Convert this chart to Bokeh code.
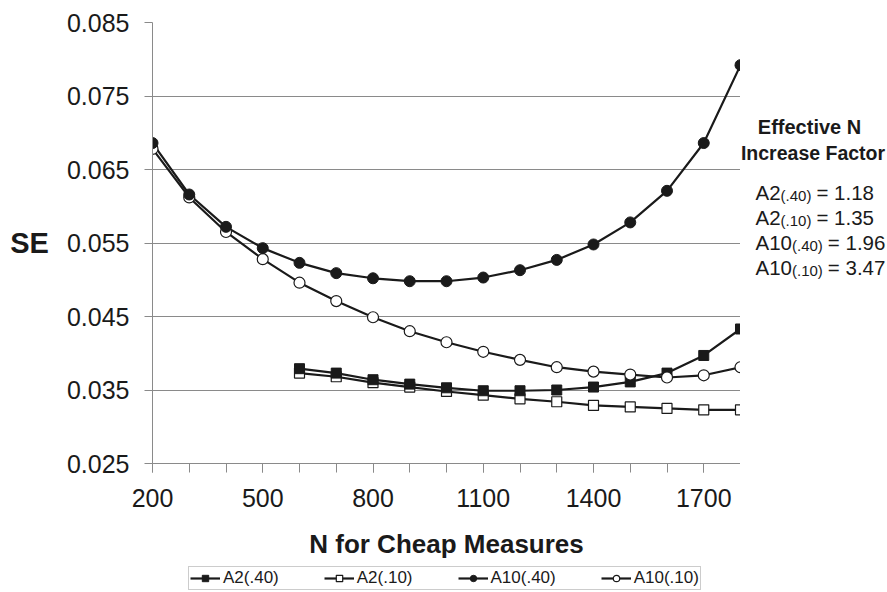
from bokeh.plotting import figure
from bokeh.layouts import row, column
from bokeh.models import FixedTicker, Legend, LegendItem, Label, Range1d
from bokeh.embed import file_html
from bokeh.resources import INLINE

# ---- data ----
n_all = [200, 300, 400, 500, 600, 700, 800, 900, 1000, 1100, 1200, 1300, 1400, 1500, 1600, 1700, 1800]
n_a2 = [600, 700, 800, 900, 1000, 1100, 1200, 1300, 1400, 1500, 1600, 1700, 1800]
a10_40 = [0.0686, 0.0616, 0.0572, 0.0543, 0.0523, 0.0509, 0.0502, 0.0498, 0.0498, 0.0503,
          0.0513, 0.0527, 0.0548, 0.0578, 0.0621, 0.0686, 0.0792]
a10_10 = [0.0678, 0.0612, 0.0565, 0.0528, 0.0496, 0.0471, 0.0449, 0.0430, 0.0415, 0.0402,
          0.0391, 0.0381, 0.0375, 0.0371, 0.0367, 0.0370, 0.0381]
a2_40 = [0.0379, 0.0373, 0.0364, 0.0358, 0.0353, 0.0349, 0.0349, 0.0350, 0.0354, 0.0361,
         0.0373, 0.0397, 0.0433]
a2_10 = [0.0373, 0.0368, 0.0360, 0.0354, 0.0348, 0.0343, 0.0338, 0.0334, 0.0329, 0.0327,
         0.0325, 0.0323, 0.0323]
series_labels = ["A2(.40)", "A2(.10)", "A10(.40)", "A10(.10)"]
y_ticks = [0.025, 0.035, 0.045, 0.055, 0.065, 0.075, 0.085]
y_tick_labels = ["0.025", "0.035", "0.045", "0.055", "0.065", "0.075", "0.085"]
x_major = [200, 500, 800, 1100, 1400, 1700]
x_minor = n_all
factor_title = ["Effective N", "Increase Factor"]
factor_names = ["A2", "A2", "A10", "A10"]
factor_subs = ["(.40)", "(.10)", "(.40)", "(.10)"]
factor_vals = ["1.18", "1.35", "1.96", "3.47"]

FONT = "Liberation Sans"
INK = "#1a1a1a"
GRID = "#8a8a8a"

MAIN_H = 566
p = figure(width=740, height=MAIN_H, output_backend="svg", toolbar_location=None,
           x_range=Range1d(200, 1800), y_range=Range1d(0.025, 0.085),
           min_border_left=152, min_border_right=0, min_border_top=22,
           min_border_bottom=MAIN_H - 463)
p.outline_line_color = None
p.background_fill_color = "white"

# axes
p.xaxis.ticker = FixedTicker(ticks=x_major, minor_ticks=x_minor)
p.yaxis.ticker = FixedTicker(ticks=y_ticks, minor_ticks=[])
p.yaxis.major_label_overrides = {t: l for t, l in zip(y_ticks, y_tick_labels)}
for ax in (p.xaxis, p.yaxis):
    ax.axis_line_color = GRID
    ax.axis_line_width = 1
    ax.major_tick_line_color = GRID
    ax.minor_tick_line_color = GRID
    ax.major_tick_in = 0
    ax.minor_tick_in = 0
    ax.major_label_text_font = FONT
    ax.major_label_text_font_size = "25px"
    ax.major_label_text_color = INK
    ax.axis_label_text_font = FONT
    ax.axis_label_text_font_style = "bold"
    ax.axis_label_text_color = INK
p.xaxis.major_tick_out = 9
p.xaxis.minor_tick_out = 9
p.xaxis.major_label_standoff = 16
p.xaxis.axis_label = "N for Cheap Measures"
p.xaxis.axis_label_text_font_size = "26px"
p.xaxis.axis_label_standoff = 19
p.yaxis.major_tick_out = 8
p.yaxis.minor_tick_out = 0
p.yaxis.major_label_standoff = 15
p.yaxis.axis_label = "SE"
p.yaxis.axis_label_orientation = "horizontal"
p.yaxis.axis_label_text_font_size = "29px"
p.yaxis.axis_label_standoff = 15

p.xgrid.grid_line_color = None
p.ygrid.ticker = FixedTicker(ticks=y_ticks)
p.ygrid.grid_line_color = GRID
p.ygrid.grid_line_width = 1

LW = 2.2
line_kw = dict(line_color=INK, line_width=LW)
mk = [dict(marker="square", size=10, fill_color=INK, line_color=INK, line_width=1),
      dict(marker="square", size=10, fill_color="white", line_color=INK, line_width=1.2),
      dict(marker="circle", size=11, fill_color=INK, line_color=INK, line_width=1),
      dict(marker="circle", size=11, fill_color="white", line_color=INK, line_width=1.2)]
series_x = [n_a2, n_a2, n_all, n_all]
series_y = [a2_40, a2_10, a10_40, a10_10]

lines = [p.line(x, y, **line_kw) for x, y in zip(series_x, series_y)]
for i in (1, 0, 3, 2):
    p.scatter(series_x[i], series_y[i], **mk[i])

# ---- right-hand annotation panel (same vertical frame as main plot) ----
side = figure(width=147, height=MAIN_H, output_backend="svg", toolbar_location=None,
              x_range=Range1d(0, 1), y_range=Range1d(0, 1),
              x_axis_location=None, y_axis_location=None,
              min_border_left=0, min_border_right=0, min_border_top=22,
              min_border_bottom=MAIN_H - 463)
side.grid.visible = False
side.outline_line_color = None


def lab(x, y, text, size, bold=False, align="left"):
    side.add_layout(Label(x=x, y=y, x_units="screen", y_units="screen", text=text,
                          text_font=FONT, text_font_size=size, text_color=INK,
                          text_font_style="bold" if bold else "normal",
                          text_align=align, text_baseline="alphabetic"))


DY = 6
lab(69, 331 + DY, factor_title[0], "20px", bold=True, align="center")
lab(72.5, 305 + DY, factor_title[1], "19.5px", bold=True, align="center")

main_px = 20.5
sub_px = 15
w_char = {"A": 0.667, "1": 0.556, "2": 0.556, "0": 0.556, "(": 0.333, ")": 0.333,
          ".": 0.278, "4": 0.556}
for i, (nm, sb, v) in enumerate(zip(factor_names, factor_subs, factor_vals)):
    y0 = 265 - 25 * i + DY
    x0 = 15
    lab(x0, y0, nm, f"{main_px}px")
    wn = sum(w_char[c] for c in nm) * main_px
    lab(x0 + wn, y0 - 3, sb, f"{sub_px}px")
    ws = sum(w_char[c] for c in sb) * sub_px
    lab(x0 + wn + ws + 5, y0, "= " + v, f"{main_px}px")

# ---- legend strip (same horizontal frame as main plot) ----
LEG_H = 592 - MAIN_H
lf = figure(width=740, height=LEG_H, output_backend="svg", toolbar_location=None,
            x_range=Range1d(0, 1), y_range=Range1d(0, 1),
            x_axis_location=None, y_axis_location=None,
            min_border_left=152, min_border_right=0, min_border_top=0, min_border_bottom=0)
lf.grid.visible = False
lf.outline_line_color = None
rs = []
for i in range(4):
    # same series, outside this strip's ranges: only their legend glyphs show
    ln = lf.line(series_x[i], series_y[i], **line_kw)
    sc = lf.scatter(series_x[i], series_y[i], **mk[i])
    rs.append([ln, sc])
items = [LegendItem(label=lab_, renderers=r) for lab_, r in zip(series_labels, rs)]
legend = Legend(items=items, orientation="horizontal", location=(36, 2),
                label_text_font=FONT, label_text_font_size="17px", label_text_color=INK,
                glyph_width=30, glyph_height=16, label_height=16, label_standoff=3,
                spacing=45, padding=1, margin=0,
                border_line_color="#999999", border_line_width=1,
                background_fill_color="white", background_fill_alpha=1)
lf.add_layout(legend)

layout = column(row(p, side, spacing=0), lf, spacing=0)
open("out.html", "w").write(file_html(layout, INLINE))
